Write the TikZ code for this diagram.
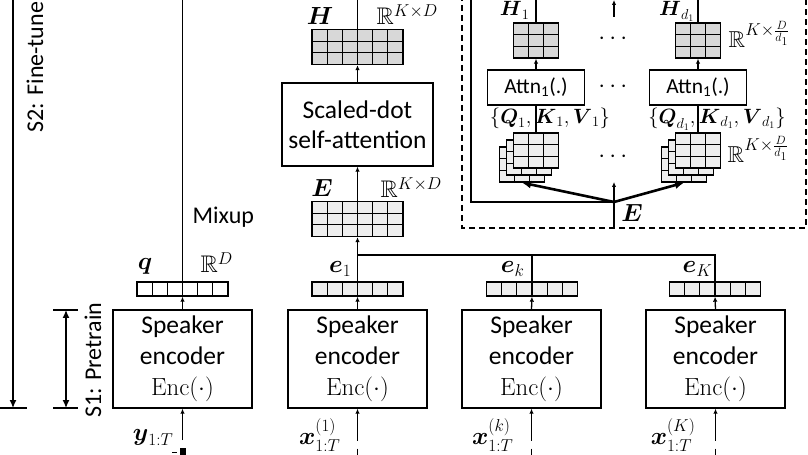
\documentclass[tikz,border=0pt]{standalone}
\usepackage{amsmath,amssymb}
\usepackage[no-math]{fontspec}
\setmainfont{Carlito}
\usepackage{tikz}
\usetikzlibrary{arrows.meta,positioning,calc}
\definecolor{cellgray}{HTML}{EEEEEE}
\definecolor{headgray}{HTML}{D8D8D8}

\begin{document}
\begin{tikzpicture}[x=1bp,y=-1bp,>={Latex[length=5bp,width=4.5bp]},line width=1.3bp,
  every node/.style={inner sep=0pt,font=\fontsize{24bp}{31bp}\selectfont},
  encbox/.style={draw,line width=1.4bp,minimum width=139bp,minimum height=98bp,align=center,
    font=\fontsize{25.5bp}{31bp}\selectfont},
  cellmat/.style 2 args={draw,line width=1.4bp,fill=cellgray,
    path picture={
      \foreach \c in {1,...,#1}
        \draw[line width=1.2bp] ($(path picture bounding box.south west)!\c/#1!(path picture bounding box.south east)$)
          -- ($(path picture bounding box.north west)!\c/#1!(path picture bounding box.north east)$);
      \foreach \r in {1,...,#2}
        \draw[line width=1.2bp] ($(path picture bounding box.south west)!\r/#2!(path picture bounding box.north west)$)
          -- ($(path picture bounding box.south east)!\r/#2!(path picture bounding box.north east)$);
    }},
  vecbar/.style={cellmat={6}{1},minimum width=91bp,minimum height=14bp},
  bigmat/.style={cellmat={6}{3},minimum width=91bp,minimum height=35bp},
  headmat/.style={cellmat={3}{3},minimum width=45bp,minimum height=35bp},
  attnbox/.style={draw,line width=1.4bp,minimum width=97bp,minimum height=35bp,font=\fontsize{21.5bp}{25bp}\selectfont},
  headlab/.style={font=\fontsize{20bp}{24bp}\selectfont},
  headdim/.style={anchor=base west,font=\fontsize{23bp}{27bp}\selectfont},
  stagetip/.style={-{Latex[length=8bp,width=7bp]}},
  stagedbl/.style={{Latex[length=8bp,width=7bp]}-{Latex[length=8bp,width=7bp]}},
  thickarrow/.style={line width=2.6bp,-{Latex[length=9bp,width=8bp]}},
  frame/.style={line width=1.3bp,dash pattern=on 6bp off 4bp}]
\useasboundingbox (0,0) rectangle (808,455);

% stages
\coordinate (s2top) at (13,-5);
\coordinate (s2end) at (13,408);
\coordinate (t0a) at (0,408);
\coordinate (t0b) at (27,408);
\draw[stagetip] (s2top) -- (s2end);
\draw (t0a) -- (t0b);
\node[rotate=90,anchor=west] (s2lab) at (35,133) {S2: Fine-tune};
\coordinate (s1top) at (66,310);
\coordinate (s1end) at (66,408);
\draw (53,310) -- (78,310);
\draw (53,408) -- (78,408);
\draw[stagedbl] (s1top) -- (s1end);
\node[rotate=90,anchor=west] (s1lab) at (93,418) {S1: Pretrain};

% speaker encoders
\node[encbox] (enc0) at (182.5,359) {Speaker\\encoder\\$\mathrm{Enc}(\cdot)$};
\node[encbox] (enc1) at (357.5,359) {Speaker\\encoder\\$\mathrm{Enc}(\cdot)$};
\node[encbox] (enck) at (531.5,359) {Speaker\\encoder\\$\mathrm{Enc}(\cdot)$};
\node[encbox] (encK) at (715.5,359) {Speaker\\encoder\\$\mathrm{Enc}(\cdot)$};

% embeddings
\node[vecbar,fill=white] (q) at (182.5,289) {};
\node[vecbar] (e1) at (357.5,289) {};
\node[vecbar] (ek) at (532,289) {};
\node[vecbar] (eK) at (715,289) {};
\node[anchor=base] (qlab) at (145,270) {$\boldsymbol{q}$};
\node[anchor=base west] (qdim) at (200,273) {$\mathbb{R}^D$};
\node[anchor=base east] (e1lab) at (352,273) {$\boldsymbol{e}_1$};
\node[anchor=base east] (eklab) at (525,273) {$\boldsymbol{e}_k$};
\node[anchor=base east] (eKlab) at (713,273) {$\boldsymbol{e}_K$};
\foreach \n/\m in {enc0/q,enc1/e1,enck/ek,encK/eK}
  \draw[->] (\n.north) -- (\m.south);

% mixup branch
\coordinate (mixtop) at (182.5,-5);
\draw (q.north) -- (mixtop);
\node[anchor=base west] (mix) at (192,224) {Mixup};

% attention branch
\node[bigmat] (E) at (357.5,219) {};
\node[draw,line width=1.4bp,minimum width=151bp,minimum height=83bp,align=center,
  font=\fontsize{25.5bp}{30bp}\selectfont] (sda) at (357.5,124.5) {Scaled-dot\\self-attention};
\node[bigmat,fill=headgray] (H) at (357.5,47) {};
\node[anchor=base] (Elab) at (322,197) {$\boldsymbol{E}$};
\node[anchor=base west] (Edim) at (380,198) {$\mathbb{R}^{K\times D}$};
\node[anchor=base] (Hlab) at (320,25) {$\boldsymbol{H}$};
\node[anchor=base west] (Hdim) at (376,25) {$\mathbb{R}^{K\times D}$};
\coordinate (bus) at (357.5,255);
\coordinate (Htop) at (357.5,-5);
\draw[->] (e1.north) -- (E.south);
\draw (eK.north) |- (bus);
\draw (ek.north) -- (ek.north |- bus);
\draw[->] (E.north) -- (sda.south);
\draw[->] (sda.north) -- (H.south);
\draw (H.north) -- (Htop);

% multi-head detail
\draw[frame] (462,-5) |- (806,228) -- (806,-5);
\foreach \s in {2,1,0} {
  \node[headmat] (qkv1-\s) at ({536-7*\s},{150.5+7*\s}) {};
  \node[headmat] (qkvd-\s) at ({698-7*\s},{150.5+7*\s}) {};
}
\node[attnbox] (attn1) at (536,87.5) {Attn\textsubscript{1}(.)};
\node[attnbox] (attnd) at (698,87.5) {Attn\textsubscript{1}(.)};
\node[headmat,fill=headgray] (H1) at (536,40.5) {};
\node[headmat,fill=headgray] (Hd) at (698,40.5) {};
\node[headlab,anchor=base east] (H1lab) at (530,16) {$\boldsymbol{H}_1$};
\node[headlab,anchor=base east] (Hdlab) at (695,16) {$\boldsymbol{H}_{d_1}$};
\node[headdim] (Hddim) at (728,48) {$\mathbb{R}^{K\times\frac{D}{d_1}}$};
\node[headlab] (qkv1lab) at (550,118) {$\{\boldsymbol{Q}_1,\boldsymbol{K}_1,\boldsymbol{V}_1\}$};
\node[headlab] (qkvdlab) at (717,119) {$\{\boldsymbol{Q}_{d_1},\boldsymbol{K}_{d_1},\boldsymbol{V}_{d_1}\}$};
\node[headdim] (qkvdim) at (727,163) {$\mathbb{R}^{K\times\frac{D}{d_1}}$};
\node (dots1) at (615,39) {$\cdots$};
\node (dots2) at (615,87) {$\cdots$};
\node (dots3) at (615,157) {$\cdots$};
\foreach \c in {1,d} {
  \draw (qkv\c-0.north) -- (attn\c.south);
  \draw[->] (attn\c.north) -- (H\c.south);
}
\coordinate (H1top) at (536,-5);
\coordinate (Hdtop) at (698,-5);
\draw (H1.north) -- (H1top);
\draw (Hd.north) -- (Hdtop);
\coordinate (Ehub) at (614,202);
\coordinate (Ein) at (614,228);
\coordinate (Eup) at (614,182);
\coordinate (restop) at (471,-5);
\coordinate (outbot) at (614,17);
\coordinate (outtop) at (614,0);
\draw (Ehub) -| (restop);
\draw[->] (Ein) -- (Eup);
\draw[thickarrow] (Ehub) -- (qkv1-2.south);
\draw[thickarrow] (Ehub) -- (qkvd-2.south);
\draw[->] (outbot) -- (outtop);
\node[anchor=base] (Einlab) at (632,222) {$\boldsymbol{E}$};

% inputs
\coordinate (yin) at (182.5,440);
\draw[->] (yin) -- (enc0.south);
\node[anchor=base east] (ylab) at (174,440) {$\boldsymbol{y}_{1:T}$};
\fill (180,448) rectangle (186,457);
\draw (172,452.5) -- (177,452.5);
\foreach \n in {enc1,enck,encK} {
  \draw[->] ($(\n.south)+(0,32)$) -- (\n.south);
  \draw ($(\n.south)+(0,40)$) -- ($(\n.south)+(0,50)$);
}
\node[anchor=east] (x1lab) at (341,435) {$\boldsymbol{x}^{(1)}_{1:T}$};
\node[anchor=east] (xklab) at (514,435) {$\boldsymbol{x}^{(k)}_{1:T}$};
\node[anchor=east] (xKlab) at (696,435) {$\boldsymbol{x}^{(K)}_{1:T}$};
\end{tikzpicture}
\end{document}
